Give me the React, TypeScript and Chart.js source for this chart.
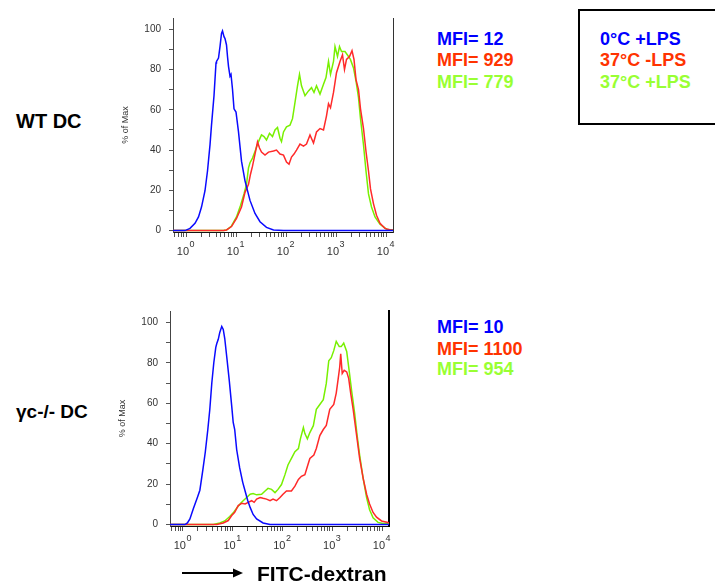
import React, { useEffect, useRef } from 'react';
import { Chart, registerables } from 'chart.js';

Chart.register(...registerables);

const FONT = '"Liberation Sans", Arial, Helvetica, sans-serif';

// ---- axis description ----
const decades = [0, 1, 2, 3, 4];
const xMinExp = -0.26;
const xMaxExp = 4.14;
const yMin = -0.7;
const yMax = 105.6;
const yTickValues = [0, 10, 20, 30, 40, 50, 60, 70, 80, 90, 100];

// ---- series names / MFI values ----
const seriesNames = ['0°C +LPS', '37°C -LPS', '37°C +LPS'];
const wtMfi = [12, 929, 779];
const gcMfi = [10, 1100, 954];
const lineColors = ['#0a0aff', '#ff2a2a', '#78f000'];
const textColors = ['#0000ff', '#ff3300', '#99ff33'];

// ---- WT DC histograms (x = log10 FITC intensity, y = % of max) ----
const wtBlueX = [-0.26, -0.02, 0.08, 0.18, 0.25, 0.31, 0.38, 0.43, 0.48, 0.51, 0.56, 0.6, 0.61, 0.65, 0.68, 0.71, 0.73, 0.76, 0.78, 0.81, 0.83, 0.85, 0.88, 0.9, 0.93, 0.96, 1.0, 1.05, 1.11, 1.18, 1.28, 1.38, 1.48, 1.61, 1.75, 1.95, 4.14];
const wtBlueY = [0, 0, 1.1, 3.6, 6.8, 11.7, 19.8, 29.6, 42.6, 52.4, 67, 83.3, 84, 85.7, 91.4, 97.9, 99.2, 96.3, 95.4, 92.2, 86.5, 81.6, 76.7, 77.6, 70.2, 60.5, 58.9, 49, 34.5, 24.7, 15, 8.5, 4.4, 1.6, 0.3, 0, 0];

const wtRedX = [-0.26, 0.75, 0.81, 0.91, 1.01, 1.11, 1.18, 1.25, 1.29, 1.33, 1.38, 1.43, 1.47, 1.51, 1.58, 1.65, 1.75, 1.81, 1.88, 1.95, 2.01, 2.06, 2.11, 2.16, 2.21, 2.28, 2.35, 2.41, 2.48, 2.55, 2.61, 2.68, 2.75, 2.81, 2.85, 2.89, 2.95, 3.01, 3.08, 3.13, 3.17, 3.21, 3.27, 3.32, 3.36, 3.4, 3.45, 3.49, 3.55, 3.6, 3.65, 3.69, 3.75, 3.81, 3.88, 3.98, 4.08, 4.14];
const wtRedY = [0, 0, 0.3, 2, 6, 11.7, 19, 23, 28, 32, 38, 44, 41, 39, 37.5, 39, 39.5, 40, 38, 37.5, 34, 33, 36.5, 38, 40, 43, 42, 43, 47.5, 43.5, 49, 50.7, 50, 57, 63, 61, 68.6, 78.4, 84, 87.3, 80, 85, 86.5, 89.4, 85, 75, 70, 60.5, 50.7, 39.3, 29.6, 20.7, 13.3, 7.6, 3.6, 1.1, 0.3, 0.3];

const wtGreenX = [-0.26, 0.75, 0.81, 0.91, 1.01, 1.09, 1.16, 1.21, 1.25, 1.28, 1.33, 1.38, 1.45, 1.51, 1.56, 1.61, 1.67, 1.73, 1.78, 1.83, 1.88, 1.91, 1.95, 2.01, 2.08, 2.13, 2.18, 2.23, 2.27, 2.31, 2.38, 2.45, 2.51, 2.56, 2.61, 2.68, 2.75, 2.8, 2.85, 2.89, 2.95, 2.98, 3.03, 3.07, 3.11, 3.18, 3.25, 3.29, 3.35, 3.4, 3.45, 3.49, 3.55, 3.6, 3.65, 3.71, 3.78, 3.88, 4.01, 4.14];
const wtGreenY = [0, 0, 0.3, 2.3, 6.8, 12.5, 18.2, 23, 31.2, 33.7, 36, 39.3, 44.2, 47.5, 46.7, 45, 48.3, 46.7, 50, 51.2, 45.9, 44.2, 49, 51.5, 52.4, 55.6, 63.7, 71.9, 77.6, 71.9, 67, 69.4, 71, 68.6, 71.9, 67.8, 72.7, 76, 84, 77.6, 84, 91.4, 86.5, 91.4, 88.9, 88.9, 86.5, 84.9, 80.8, 74.3, 66, 55.6, 42.6, 29.6, 18.2, 11.7, 6.8, 3.1, 0.7, 0.3];

// ---- γc-/- DC histograms ----
const gcBlueX = [-0.26, 0.04, 0.09, 0.14, 0.21, 0.29, 0.34, 0.4, 0.45, 0.5, 0.54, 0.58, 0.62, 0.66, 0.68, 0.71, 0.74, 0.78, 0.81, 0.84, 0.88, 0.93, 0.98, 1.01, 1.04, 1.08, 1.14, 1.2, 1.25, 1.3, 1.35, 1.41, 1.48, 1.61, 1.75, 4.14];
const gcBlueY = [0, 0, 0.8, 2.8, 8, 13.4, 17, 27, 36, 47, 57, 70, 80, 87.6, 89.5, 91.6, 95, 98, 96.5, 92, 83, 71.4, 58.6, 50.5, 47, 37, 28, 21, 16.5, 12, 8.5, 5, 2.8, 0.8, 0, 0];

const gcRedX = [-0.26, 0.68, 0.81, 0.91, 0.98, 1.04, 1.11, 1.18, 1.25, 1.31, 1.38, 1.43, 1.48, 1.55, 1.61, 1.68, 1.75, 1.81, 1.88, 1.95, 2.01, 2.08, 2.18, 2.25, 2.32, 2.38, 2.45, 2.5, 2.55, 2.63, 2.68, 2.75, 2.82, 2.88, 2.95, 3.03, 3.08, 3.12, 3.15, 3.17, 3.2, 3.24, 3.29, 3.33, 3.37, 3.42, 3.49, 3.55, 3.62, 3.69, 3.75, 3.82, 3.89, 3.99, 4.12, 4.14];
const gcRedY = [0, 0, 0.8, 2, 4.5, 6.1, 9.4, 10.5, 10.2, 11, 11.8, 11, 12.6, 13.4, 13, 12.6, 11.8, 12.6, 11.8, 13.4, 15, 16.6, 16.6, 19, 22.3, 23.9, 24.7, 28.7, 32.7, 34.4, 37.6, 44, 47, 49, 57, 59.4, 65, 72.3, 77.9, 84.4, 74.7, 76.3, 75.5, 72.3, 65, 57, 44, 32.7, 23, 15, 10.2, 6, 3.7, 1.8, 1, 0.8];

const gcGreenX = [-0.26, 0.61, 0.74, 0.84, 0.94, 1.02, 1.09, 1.16, 1.21, 1.28, 1.35, 1.41, 1.48, 1.58, 1.65, 1.71, 1.78, 1.85, 1.91, 1.98, 2.05, 2.11, 2.18, 2.25, 2.32, 2.36, 2.42, 2.45, 2.5, 2.55, 2.62, 2.68, 2.75, 2.82, 2.88, 2.93, 2.98, 3.03, 3.08, 3.14, 3.18, 3.23, 3.29, 3.34, 3.39, 3.45, 3.5, 3.55, 3.62, 3.69, 3.75, 3.82, 3.92, 4.02, 4.14];
const gcGreenY = [0, 0, 0.8, 1.8, 4, 6.1, 8.5, 10.5, 11.8, 13.4, 15, 15.3, 14.7, 15, 16.6, 17.9, 17.4, 15.8, 17.4, 19.8, 24.7, 29.5, 32.7, 36, 37.6, 42.4, 48, 45, 42.4, 45.5, 48.9, 57, 59.4, 61.8, 69.8, 81, 82.5, 86, 90.6, 88, 88, 89.7, 85.6, 76, 66, 55, 44, 34.4, 23, 13.4, 7.3, 3.4, 1.1, 0.5, 0.5];

function toPoints(xs: number[], ys: number[]) {
  return xs.map((v, i) => ({ x: Math.pow(10, v), y: ys[i] }));
}

function buildXTicks() {
  const out: { value: number; major: boolean }[] = [];
  const lo = Math.pow(10, xMinExp);
  const hi = Math.pow(10, xMaxExp);
  for (let d = -1; d <= 4; d++) {
    for (let m = 1; m <= 9; m++) {
      const v = m * Math.pow(10, d);
      if (v >= lo && v <= hi) out.push({ value: v, major: m === 1 });
    }
  }
  return out;
}

const decadeLabels = {
  id: 'decadeLabels',
  afterDraw(chart: any) {
    const xs = chart.scales.x;
    const ctx = chart.ctx;
    const base = chart.chartArea.bottom;
    ctx.save();
    ctx.fillStyle = '#333';
    ctx.textBaseline = 'alphabetic';
    decades.forEach((d) => {
      const px = xs.getPixelForValue(Math.pow(10, d));
      ctx.font = `11px ${FONT}`;
      ctx.textAlign = 'right';
      ctx.fillText('10', px + 3, base + 22.5);
      ctx.font = `9px ${FONT}`;
      ctx.textAlign = 'left';
      ctx.fillText(String(d), px + 3.5, base + 15);
    });
    ctx.restore();
  },
};

type Series = { xs: number[]; ys: number[] };

function Histogram(props: {
  left: number;
  top: number;
  width: number;
  height: number;
  padTop: number;
  padRight: number;
  yAxisW: number;
  xAxisH: number;
  series: Series[];
  rightBorderWidth: number;
  rightBorderColor: string;
}) {
  const ref = useRef<HTMLCanvasElement | null>(null);
  useEffect(() => {
    if (!ref.current) return;
    const p = props;
    const chart = new Chart(ref.current, {
      type: 'line',
      data: {
        datasets: p.series.map((s, i) => ({
          label: seriesNames[i],
          data: toPoints(s.xs, s.ys),
          borderColor: lineColors[i],
          borderWidth: 1.5,
          pointRadius: 0,
          tension: 0,
          fill: false,
        })),
      },
      options: {
        responsive: false,
        animation: false,
        devicePixelRatio: 1,
        events: [],
        layout: { padding: { top: p.padTop, right: p.padRight, left: 0, bottom: 0 } },
        plugins: { legend: { display: false }, tooltip: { enabled: false } },
        scales: {
          x: {
            type: 'logarithmic',
            min: Math.pow(10, xMinExp),
            max: Math.pow(10, xMaxExp),
            afterBuildTicks: (scale: any) => {
              scale.ticks = buildXTicks();
            },
            afterFit: (scale: any) => {
              scale.height = p.xAxisH;
            },
            ticks: { display: false, autoSkip: false },
            grid: { display: true, drawOnChartArea: false, drawTicks: true, tickLength: 5, color: '#555', lineWidth: 1 },
            border: { display: true, color: '#111', width: 1 },
          },
          y: {
            type: 'linear',
            position: 'left',
            min: yMin,
            max: yMax,
            afterBuildTicks: (scale: any) => {
              scale.ticks = yTickValues.map((v) => ({ value: v }));
            },
            afterFit: (scale: any) => {
              scale.width = p.yAxisW;
            },
            ticks: {
              autoSkip: false,
              padding: 8,
              color: '#333',
              font: { family: FONT, size: 10 },
              callback: (v: any) => (Number(v) % 20 === 0 ? String(v) : ''),
            },
            grid: { display: true, drawOnChartArea: false, drawTicks: true, tickLength: 4, color: '#555', lineWidth: 1 },
            border: { display: true, color: '#444', width: 1 },
            title: {
              display: true,
              text: '% of Max',
              color: '#333',
              font: { family: FONT, size: 9 },
              padding: { top: 7.5, bottom: 0 },
            },
          },
          yR: {
            type: 'linear',
            position: 'right',
            min: 0,
            max: 1,
            afterFit: (scale: any) => {
              scale.width = 0;
            },
            ticks: { display: false },
            grid: { display: false, drawTicks: false },
            border: { display: true, color: p.rightBorderColor, width: p.rightBorderWidth },
          },
        },
      } as any,
      plugins: [decadeLabels],
    });
    return () => chart.destroy();
  }, []);
  return (
    <canvas
      ref={ref}
      width={props.width}
      height={props.height}
      style={{ position: 'absolute', left: props.left, top: props.top, width: props.width, height: props.height }}
    />
  );
}

function Label(props: { text: string; left: number; center: number; size: number; color?: string }) {
  const top = props.center - 0.4885 * props.size;
  return (
    <div
      style={{
        position: 'absolute',
        left: props.left,
        top,
        fontFamily: FONT,
        fontWeight: 'bold',
        fontSize: props.size,
        lineHeight: `${props.size}px`,
        color: props.color || '#000',
        whiteSpace: 'nowrap',
      }}
    >
      {props.text}
    </div>
  );
}

export default function App() {
  const rowCentersTop = [38.5, 60, 81.7];
  const rowCentersBottom = [326.7, 348.3, 369];
  return (
    <div
      style={{
        position: 'absolute',
        left: 0,
        top: 0,
        width: 715,
        height: 584,
        overflow: 'hidden',
        background: '#fff',
      }}
    >
      <Histogram
        left={113}
        top={4}
        width={290}
        height={262}
        padTop={10}
        padRight={10}
        yAxisW={60}
        xAxisH={34}
        series={[
          { xs: wtBlueX, ys: wtBlueY },
          { xs: wtRedX, ys: wtRedY },
          { xs: wtGreenX, ys: wtGreenY },
        ]}
        rightBorderWidth={1}
        rightBorderColor="#333"
      />
      <Histogram
        left={110}
        top={297}
        width={290}
        height={262}
        padTop={10}
        padRight={11}
        yAxisW={60}
        xAxisH={33}
        series={[
          { xs: gcBlueX, ys: gcBlueY },
          { xs: gcRedX, ys: gcRedY },
          { xs: gcGreenX, ys: gcGreenY },
        ]}
        rightBorderWidth={2}
        rightBorderColor="#000"
      />

      <Label text="WT DC" left={16} center={121} size={20} />
      <Label text="γc-/- DC" left={16} center={411} size={19} />

      {wtMfi.map((m, i) => (
        <Label key={'wt' + i} text={`MFI= ${m}`} left={437} center={rowCentersTop[i]} size={18} color={textColors[i]} />
      ))}
      {gcMfi.map((m, i) => (
        <Label key={'gc' + i} text={`MFI= ${m}`} left={437} center={rowCentersBottom[i]} size={18} color={textColors[i]} />
      ))}

      <div
        style={{
          position: 'absolute',
          left: 578,
          top: 9,
          width: 200,
          height: 116,
          boxSizing: 'border-box',
          border: '2px solid #000',
        }}
      />
      {seriesNames.map((n, i) => (
        <Label key={'lg' + i} text={n} left={600} center={rowCentersTop[i]} size={18} color={textColors[i]} />
      ))}

      <svg
        width={715}
        height={584}
        style={{ position: 'absolute', left: 0, top: 0, pointerEvents: 'none' }}
      >
        <line x1={182} y1={573} x2={235} y2={573} stroke="#000" strokeWidth={2} />
        <polygon points="233,568.5 243,573 233,577.5" fill="#000" />
      </svg>
      <Label text="FITC-dextran" left={257} center={573} size={21} />
    </div>
  );
}
